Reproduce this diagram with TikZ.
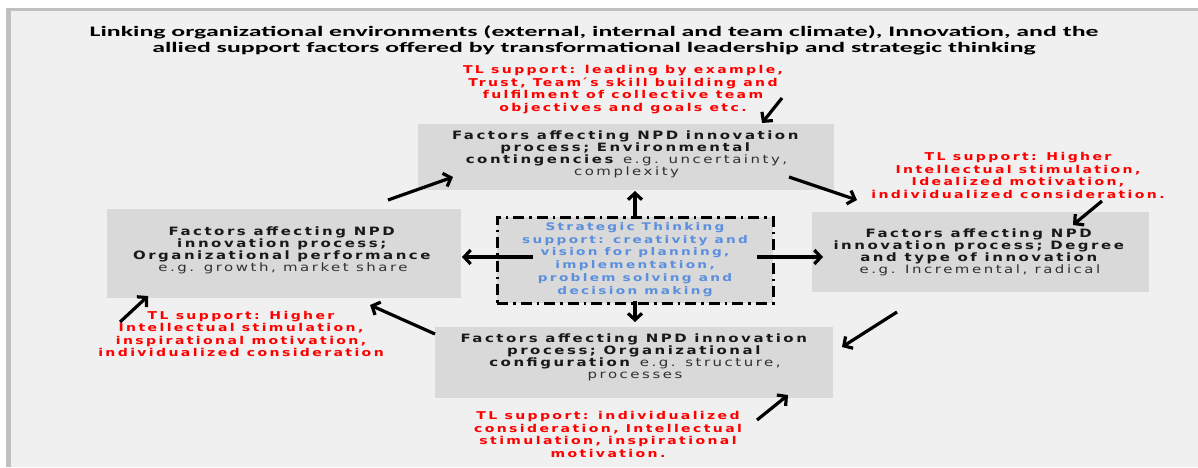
\documentclass[tikz,border=0pt]{standalone}
\usepackage{fontspec}
\usetikzlibrary{arrows.meta}
\newfontfamily\titlef[FakeStretch=1.78]{Carlito}
\newfontfamily\boxf[FakeStretch=1.3,LetterSpace=22]{DejaVu Sans}
\definecolor{bgc}{HTML}{F0F0F0}
\definecolor{framec}{HTML}{C0C0C0}
\definecolor{boxc}{HTML}{D9D9D9}
\definecolor{tlred}{HTML}{FF0000}
\definecolor{stblue}{HTML}{5B8FDF}
\definecolor{txtgray}{HTML}{303030}
\tikzset{
  factorbox/.style={draw=none,fill=boxc,inner sep=0pt},
  boxtext/.style={align=center,inner sep=0pt,text=black!90,font=\boxf\fontsize{11.5}{12}\selectfont},
  tltext/.style={align=center,inner sep=0pt,text=tlred,font=\boxf\bfseries\fontsize{10.8}{12.6}\selectfont},
  sttext/.style={align=center,inner sep=0pt,text=stblue,font=\boxf\bfseries\fontsize{10.5}{12.8}\selectfont},
  conn/.style={line width=3.2pt,-{Straight Barb[length=6.5pt,width=14pt]}},
}
\begin{document}
\begin{tikzpicture}[x=1pt,y=-1pt]
\useasboundingbox (0,0) rectangle (1198,467);
\fill[white] (0,0) rectangle (1198,467);
\fill[framec] (6,8) rectangle (1198,467);
\fill[bgc] (11,11) rectangle (1198,467);

\node[align=center,inner sep=0pt,font=\titlef\bfseries\fontsize{14.5}{15.5}\selectfont] (title) at (594,40.5)
  {Linking organizational environments (external, internal and team climate), Innovation, and the\\
   allied support factors offered by transformational leadership and strategic thinking};

% boxes
\node[factorbox,minimum width=416pt,minimum height=66pt] (top) at (626,157) {};
\node[factorbox,minimum width=354pt,minimum height=89pt] (left) at (284,253.5) {};
\node[factorbox,minimum width=337pt,minimum height=80pt] (right) at (980.5,252) {};
\node[factorbox,minimum width=398pt,minimum height=71pt] (bottom) at (634,362.5) {};
\node[draw=black,fill=boxc,line width=3pt,dash pattern=on 11pt off 5pt on 2.5pt off 5pt,
      minimum width=276pt,minimum height=86pt,inner sep=0pt] (st) at (635,260) {};

% box texts
\node[boxtext] (topt) at (626.5,154)
  {\textbf{Factors affecting NPD innovation}\\
   \textbf{process; Environmental}\\
   \textbf{contingencies} {\color{txtgray}e.g. uncertainty,}\\
   {\color{txtgray}complexity}};
\node[boxtext] (leftt) at (283,250.5)
  {\textbf{Factors affecting NPD}\\
   \textbf{innovation process;}\\
   \textbf{Organizational performance}\\
   {\color{txtgray}e.g. growth, market share}};
\node[boxtext] (rightt) at (980,252.5)
  {\textbf{Factors affecting NPD}\\
   \textbf{innovation process; Degree}\\
   \textbf{and type of innovation}\\
   {\color{txtgray}e.g. Incremental, radical}};
\node[boxtext] (bottomt) at (635,357)
  {\textbf{Factors affecting NPD innovation}\\
   \textbf{process; Organizational}\\
   \textbf{configuration} {\color{txtgray}e.g. structure,}\\
   {\color{txtgray}processes}};
\node[sttext] (stt) at (635,259.5)
  {Strategic Thinking\\
   support: creativity and\\
   vision for planning,\\
   implementation,\\
   problem solving and\\
   decision making};

% TL support texts
\node[tltext] (tltop) at (623,89.5)
  {TL support: leading by example,\\
   Trust, Team\,\'{}s skill building and\\
   fulfilment of collective team\\
   objectives and goals etc.};
\node[tltext] (tlright) at (1018,175.5)
  {TL support: Higher\\
   Intellectual stimulation,\\
   Idealized motivation,\\
   individualized consideration.};
\node[tltext] (tlleft) at (241,334)
  {TL support: Higher\\
   Intellectual stimulation,\\
   inspirational motivation,\\
   individualized consideration};
\node[tltext] (tlbottom) at (608,434.5)
  {TL support: individualized\\
   consideration, Intellectual\\
   stimulation, inspirational\\
   motivation.};

% arrow end points
\coordinate (a1s) at (388,200); \coordinate (a1e) at (453,177);
\coordinate (a2s) at (789,177); \coordinate (a2e) at (857,200);
\coordinate (a3s) at (897,312); \coordinate (a3e) at (842,347);
\coordinate (a4s) at (435,334); \coordinate (a4e) at (370,305);
\coordinate (c1s) at (635,219); \coordinate (c1e) at (635,191);
\coordinate (c2s) at (635,301); \coordinate (c2e) at (635,322);
\coordinate (c3s) at (533,257); \coordinate (c3e) at (462,257);
\coordinate (c4s) at (757,257); \coordinate (c4e) at (823,257);
\coordinate (t1s) at (782,98);  \coordinate (t1e) at (762,123);
\coordinate (t2s) at (1102,201); \coordinate (t2e) at (1073,225);
\coordinate (t3s) at (120,322); \coordinate (t3e) at (148,296);
\coordinate (t4s) at (757,420); \coordinate (t4e) at (788,395);

\draw[conn] (a1s) -- (a1e);
\draw[conn] (a2s) -- (a2e);
\draw[conn] (a3s) -- (a3e);
\draw[conn] (a4s) -- (a4e);
\draw[conn] (c1s) -- (c1e);
\draw[conn] (c2s) -- (c2e);
\draw[conn] (c3s) -- (c3e);
\draw[conn] (c4s) -- (c4e);
\draw[conn] (t1s) -- (t1e);
\draw[conn] (t2s) -- (t2e);
\draw[conn] (t3s) -- (t3e);
\draw[conn] (t4s) -- (t4e);
\end{tikzpicture}
\end{document}
